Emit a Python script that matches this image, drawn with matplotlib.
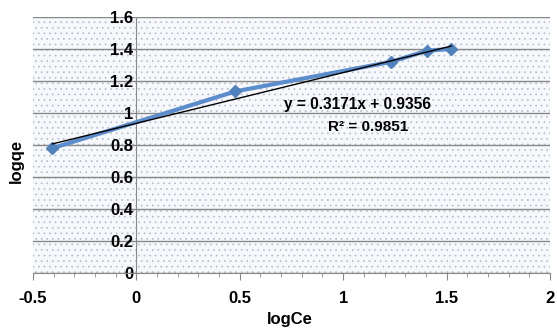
import numpy as np
import matplotlib.pyplot as plt
from matplotlib.ticker import MultipleLocator

# data
log_ce = [-0.406, 0.479, 1.233, 1.407, 1.523]
log_qe = [0.78, 1.135, 1.32, 1.39, 1.40]
slope = 0.3171
intercept = 0.9356
eq_text = 'y = 0.3171x + 0.9356'
r2_text = 'R² = 0.9851'

plt.rcParams['font.family'] = ['Liberation Sans', 'DejaVu Sans']
plt.rcParams['hatch.linewidth'] = 0.5

fig = plt.figure(figsize=(5.57, 3.29), dpi=100)
ax = fig.add_axes([0.0592, 0.1702, 0.9282, 0.7781])

ax.set_xlim(-0.5, 2)
ax.set_ylim(0, 1.6)

# dotted plot area background
ax.patch.set_facecolor('white')
ax.add_patch(plt.Rectangle((0, 0), 1, 1, transform=ax.transAxes,
                           facecolor='#f6f8fb', edgecolor='#b4bdc7', linewidth=0,
                           hatch='...', zorder=0))

ax.yaxis.set_major_locator(MultipleLocator(0.2))
ax.xaxis.set_major_locator(MultipleLocator(0.5))
ax.xaxis.set_minor_locator(MultipleLocator(0.1))
ax.grid(axis='y', color='#888888', linewidth=1.0, zorder=1)
ax.set_axisbelow(True)

for s in ['top', 'right']:
    ax.spines[s].set_visible(False)
ax.spines['left'].set_position(('data', 0))
ax.spines['left'].set_color('#888888')
ax.spines['bottom'].set_color('#888888')
ax.tick_params(axis='y', length=0, pad=2, labelsize=12)
ax.tick_params(axis='x', which='major', length=5, color='#888888', labelsize=12, pad=8)
ax.tick_params(axis='x', which='minor', length=3, color='#888888')

ax.set_xticks([-0.5, 0, 0.5, 1, 1.5, 2])
ax.set_xticklabels(['-0.5', '0', '0.5', '1', '1.5', '2'], fontweight='bold')
ax.set_yticks([0, 0.2, 0.4, 0.6, 0.8, 1, 1.2, 1.4, 1.6])
ax.set_yticklabels(['0', '0.2', '0.4', '0.6', '0.8', '1', '1.2', '1.4', '1.6'], fontweight='bold')

# data series
ax.plot(log_ce, log_qe, color='#5b8ccb', linewidth=3, marker='D', markersize=6,
        markerfacecolor='#4f81bd', markeredgecolor='#4f81bd', zorder=3)

# linear trendline
xt = np.array([min(log_ce), max(log_ce)])
ax.plot(xt, slope * xt + intercept, color='black', linewidth=1.0, zorder=4)

ax.text(1.07, 1.055, eq_text, fontsize=11.2, fontweight='bold', ha='center', va='center', zorder=5)
ax.text(1.12, 0.915, r2_text, fontsize=11, fontweight='bold', ha='center', va='center', zorder=5)

fig.text(0.52, 0.03, 'logCe', fontsize=12, fontweight='bold', ha='center', va='center')
fig.text(0.03, 0.51, 'logqe', fontsize=12, fontweight='bold', ha='center', va='center', rotation=90)

fig.savefig('out.png', dpi=100)
